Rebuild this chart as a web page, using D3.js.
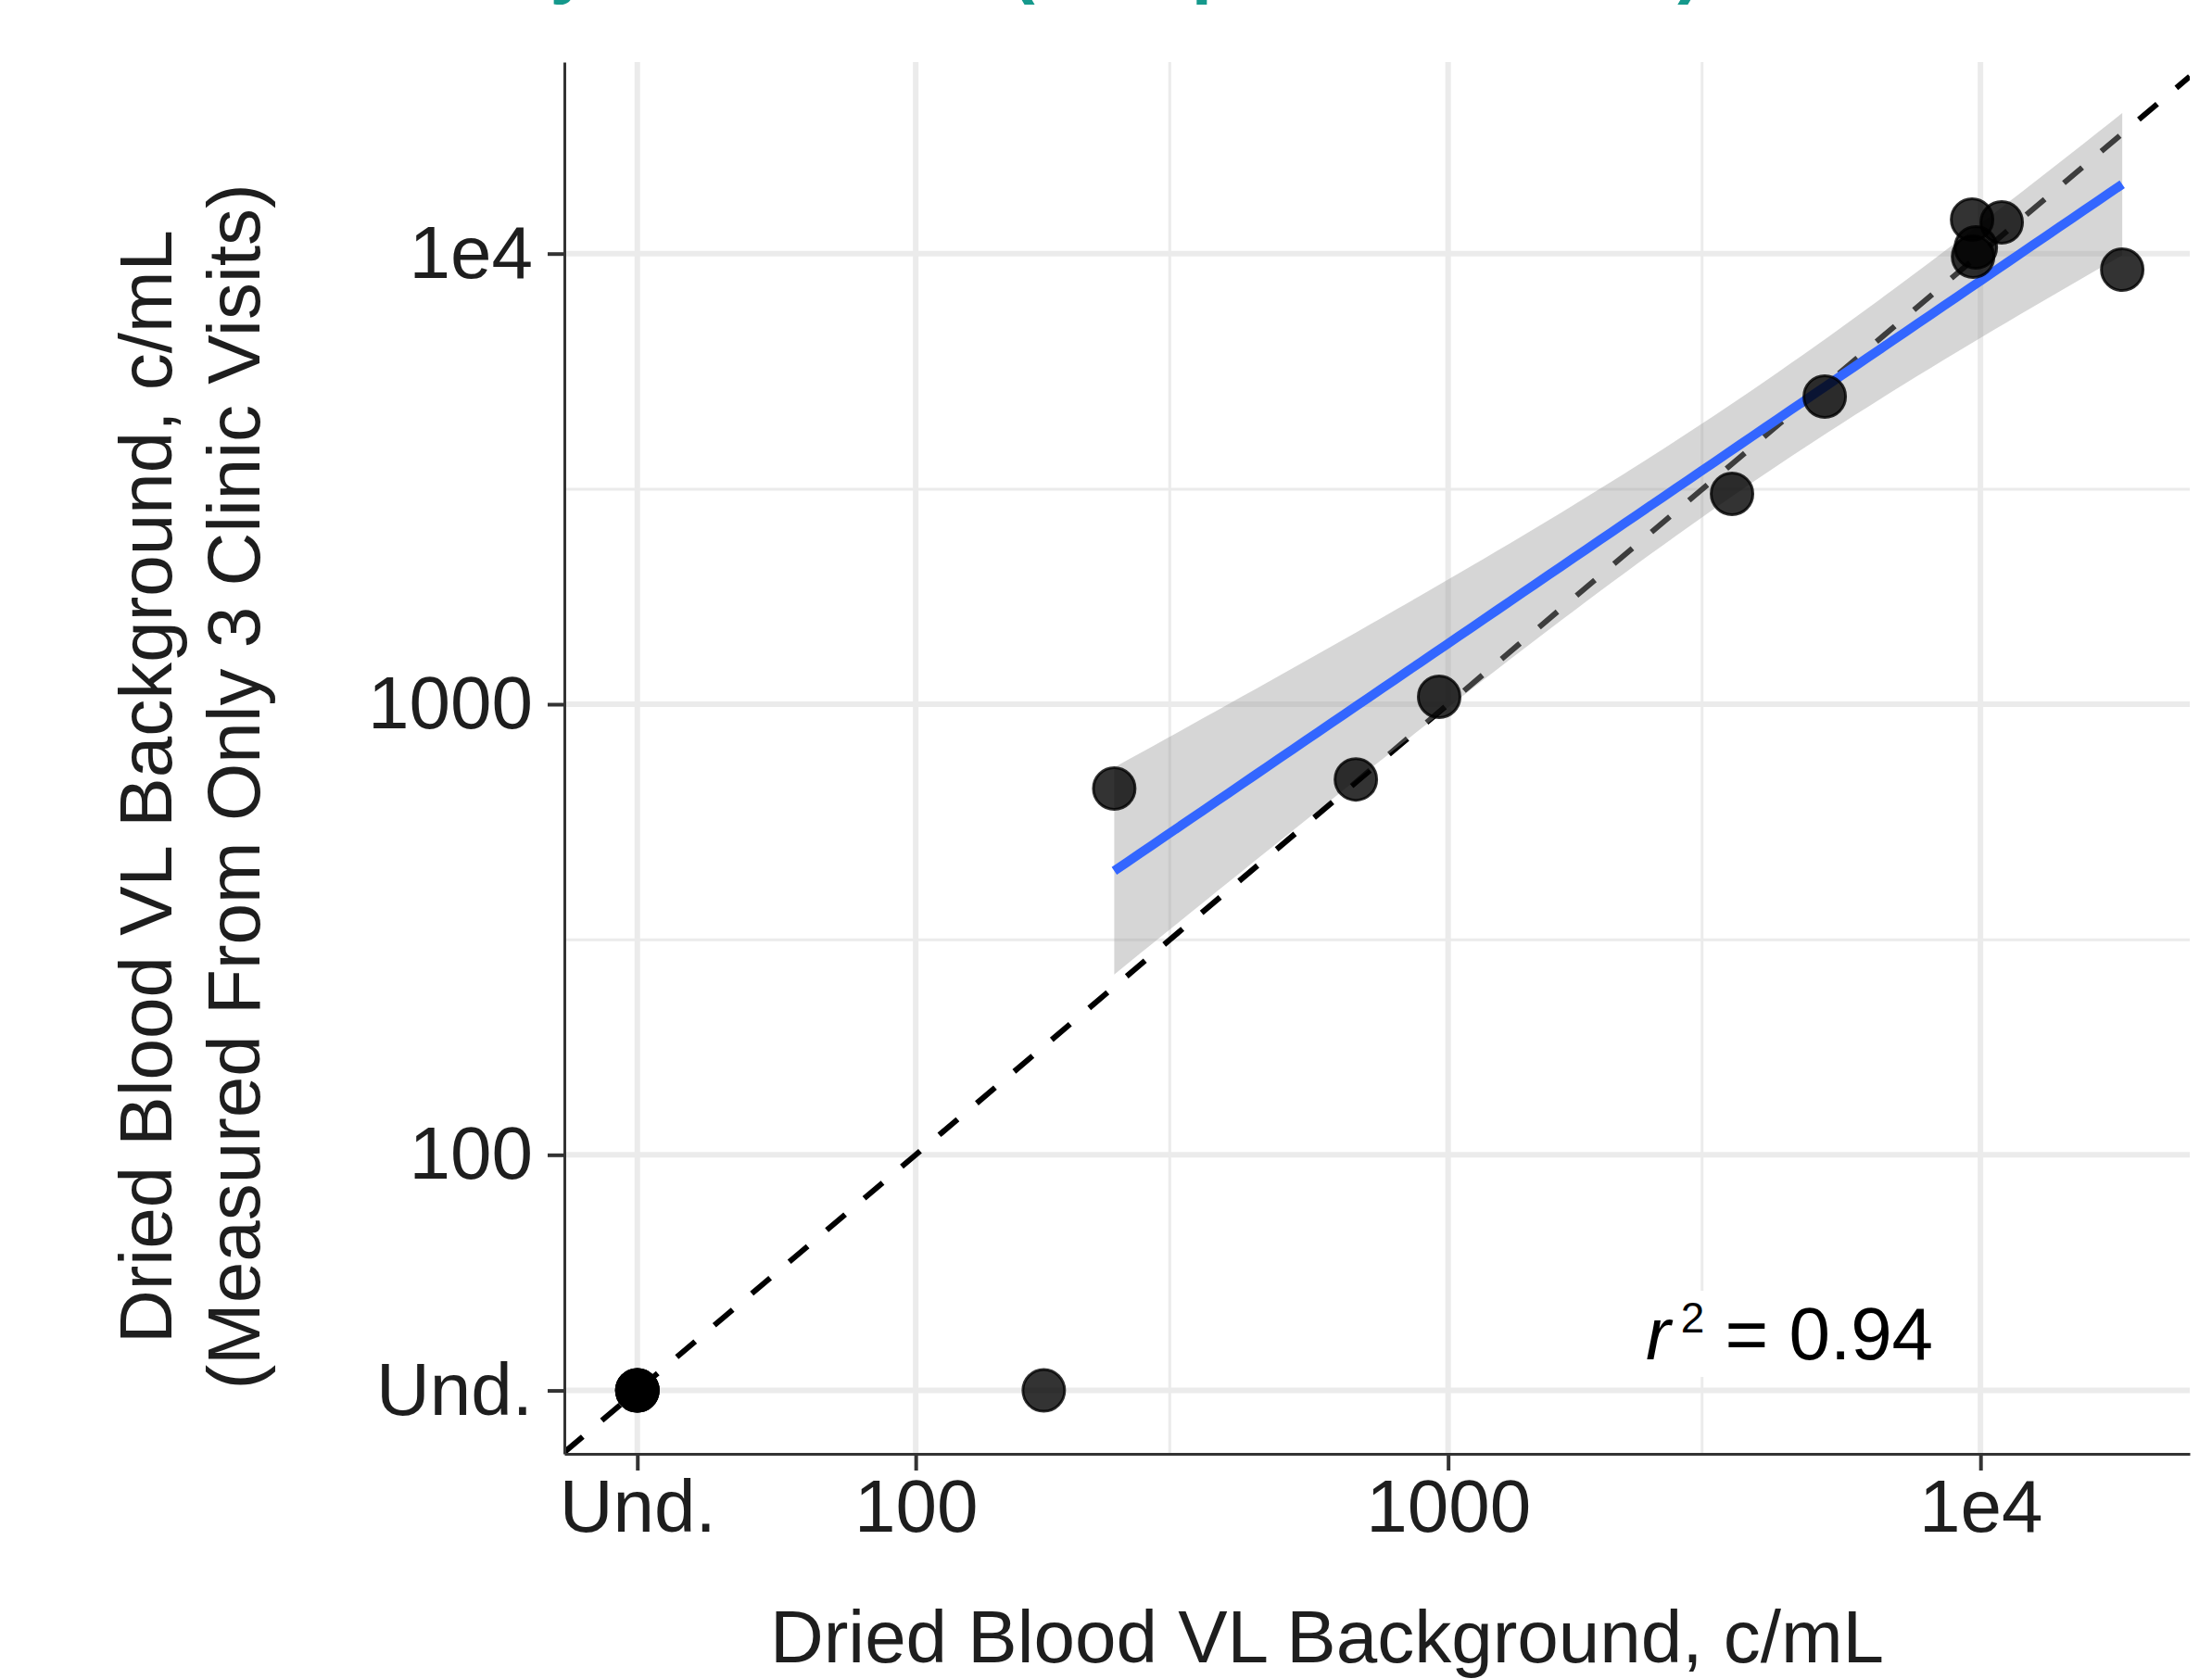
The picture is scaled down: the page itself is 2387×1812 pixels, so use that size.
<!DOCTYPE html>
<html>
<head>
<meta charset="utf-8">
<script src="https://cdn.jsdelivr.net/npm/d3@7"></script>
<style>
  body { margin: 0; background: #fff; }
  svg { display: block; font-family: "Liberation Sans", Arial, sans-serif; }
</style>
</head>
<body>
<svg id="chart"></svg>
<script>
// "Und." (undetectable) is drawn at 30 c/mL, like the original plot
const UND = 30;
const dbsAll   = [null, null, null, null, 174, 236, 671, 962, 3414, 5098, 9643, 10960, 9800, 9683, 18460];
const dbsThree = [null, null, null, null, null, 650, 681, 1039, 2930, 4817, 11900, 11730, 10320, 9845, 9213];

const tickValues = [UND, 100, 1000, 10000];
const tickLabels = ["Und.", "100", "1000", "1e4"];
const minorValues = [300, 3000];
const xDomain = [21.88, 24720];
const yDomain = [21.7, 26610];

const titleText = "Viremia by Clinic Visit (Sample Collection)";
const xTitle = "Dried Blood VL Background, c/mL";
const yTitle = ["Dried Blood VL Background, c/mL", "(Measured From Only 3 Clinic Visits)"];
const tCrit = 2.306; // qt(0.975, df = 8)

const width = 2387, height = 1812;
const panel = { left: 609, right: 2363, top: 67, bottom: 1569 };

const svg = d3.select("#chart")
    .attr("width", width)
    .attr("height", height);

const x = d3.scaleLog().domain(xDomain).range([panel.left, panel.right]);
const y = d3.scaleLog().domain(yDomain).range([panel.bottom, panel.top]);

const data = dbsAll.map((v, i) => ({ x: v, y: dbsThree[i] }));

svg.append("clipPath").attr("id", "panel-clip")
    .append("rect")
    .attr("x", panel.left).attr("y", panel.top)
    .attr("width", panel.right - panel.left)
    .attr("height", panel.bottom - panel.top);

// grid
const grid = svg.append("g");
grid.selectAll(".vminor").data(minorValues).join("line")
    .attr("x1", d => x(d)).attr("x2", d => x(d))
    .attr("y1", panel.top).attr("y2", panel.bottom)
    .attr("stroke", "#ebebeb").attr("stroke-width", 3);
grid.selectAll(".hminor").data(minorValues).join("line")
    .attr("y1", d => y(d)).attr("y2", d => y(d))
    .attr("x1", panel.left).attr("x2", panel.right)
    .attr("stroke", "#ebebeb").attr("stroke-width", 3);
grid.selectAll(".vmajor").data(tickValues).join("line")
    .attr("x1", d => x(d)).attr("x2", d => x(d))
    .attr("y1", panel.top).attr("y2", panel.bottom)
    .attr("stroke", "#ebebeb").attr("stroke-width", 6);
grid.selectAll(".hmajor").data(tickValues).join("line")
    .attr("y1", d => y(d)).attr("y2", d => y(d))
    .attr("x1", panel.left).attr("x2", panel.right)
    .attr("stroke", "#ebebeb").attr("stroke-width", 6);

const plot = svg.append("g").attr("clip-path", "url(#panel-clip)");

// identity line y = x
plot.append("path")
    .datum(xDomain)
    .attr("d", d3.line().x(d => x(d)).y(d => y(d)))
    .attr("fill", "none")
    .attr("stroke", "#000")
    .attr("stroke-width", 6)
    .attr("stroke-dasharray", "26,27");

// linear fit on log10 scale, detected pairs only
const fitPts = data.filter(d => d.x != null && d.y != null)
    .map(d => [Math.log10(d.x), Math.log10(d.y)]);
const n = fitPts.length;
const mx = d3.mean(fitPts, d => d[0]);
const my = d3.mean(fitPts, d => d[1]);
const sxx = d3.sum(fitPts, d => (d[0] - mx) ** 2);
const syy = d3.sum(fitPts, d => (d[1] - my) ** 2);
const sxy = d3.sum(fitPts, d => (d[0] - mx) * (d[1] - my));
const slope = sxy / sxx;
const intercept = my - slope * mx;
const se = Math.sqrt((syy - slope * sxy) / (n - 2));
const r2 = sxy * sxy / (sxx * syy);

const [lxMin, lxMax] = d3.extent(fitPts, d => d[0]);
const fitLine = d3.range(80).map(i => {
    const lx = lxMin + (lxMax - lxMin) * i / 79;
    const fit = intercept + slope * lx;
    const ci = tCrit * se * Math.sqrt(1 / n + (lx - mx) ** 2 / sxx);
    return { lx, fit, lo: fit - ci, hi: fit + ci };
});

plot.append("path")
    .datum(fitLine)
    .attr("d", d3.area()
        .x(d => x(10 ** d.lx))
        .y0(d => y(10 ** d.lo))
        .y1(d => y(10 ** d.hi)))
    .attr("fill", "#999999")
    .attr("fill-opacity", 0.4);

plot.append("path")
    .datum(fitLine)
    .attr("d", d3.line().x(d => x(10 ** d.lx)).y(d => y(10 ** d.fit)))
    .attr("fill", "none")
    .attr("stroke", "#3366FF")
    .attr("stroke-width", 10);

// points
plot.selectAll(".pt").data(data).join("circle")
    .attr("cx", d => x(d.x == null ? UND : d.x))
    .attr("cy", d => y(d.y == null ? UND : d.y))
    .attr("r", 22.5)
    .attr("fill", "#000")
    .attr("fill-opacity", 0.8)
    .attr("stroke", "#000")
    .attr("stroke-opacity", 0.8)
    .attr("stroke-width", 3);

// r^2 label
const label = svg.append("g");
const labelBox = label.append("rect").attr("fill", "#fff");
const labelText = label.append("text")
    .attr("x", 1776).attr("y", 1467)
    .attr("font-size", 80).attr("fill", "#000");
labelText.append("tspan").attr("font-style", "italic").text("r");
labelText.append("tspan").attr("dx", 11).attr("dy", -29).attr("font-size", 46).text("2");
labelText.append("tspan").attr("dy", 29).text(" = " + r2.toFixed(2));
const bb = labelText.node().getBBox();
labelBox.attr("x", bb.x - 14).attr("y", bb.y - 2)
    .attr("width", bb.width + 28).attr("height", bb.height + 4);

// axes
const xAxis = svg.append("g")
    .attr("transform", `translate(0,${panel.bottom})`)
    .call(d3.axisBottom(x)
        .tickValues(tickValues)
        .tickFormat((d, i) => tickLabels[i])
        .tickSize(18).tickSizeOuter(0).tickPadding(9));
const yAxis = svg.append("g")
    .attr("transform", `translate(${panel.left},0)`)
    .call(d3.axisLeft(y)
        .tickValues(tickValues)
        .tickFormat((d, i) => tickLabels[i])
        .tickSize(18).tickSizeOuter(0).tickPadding(16));

[xAxis, yAxis].forEach(g => {
    g.attr("font-family", null).attr("font-size", null);
    g.select(".domain").attr("stroke", "#333").attr("stroke-width", 3);
    g.selectAll(".tick line").attr("stroke", "#333").attr("stroke-width", 4);
    g.selectAll(".tick text").attr("fill", "#1e1e1e").attr("font-size", 80);
});

// titles
svg.append("text")
    .attr("x", 1432).attr("y", 1794)
    .attr("text-anchor", "middle")
    .attr("font-size", 80).attr("fill", "#1e1e1e")
    .text(xTitle);

const yt = svg.append("text")
    .attr("transform", "translate(185,849) rotate(-90)")
    .attr("text-anchor", "middle")
    .attr("font-size", 80).attr("fill", "#1e1e1e");
yt.selectAll("tspan").data(yTitle).join("tspan")
    .attr("x", 0).attr("y", (d, i) => i * 95)
    .text(d => d);

// plot title, mostly above the visible area (cropped in the original too)
const title = svg.append("text")
    .attr("x", 0).attr("y", -12)
    .attr("font-size", 80).attr("font-weight", "bold")
    .attr("fill", "#15998c")
    .text(titleText);
const parenX = title.node().getStartPositionOfChar(titleText.indexOf("(")).x;
title.attr("x", 1090 - parenX);
</script>
</body>
</html>
